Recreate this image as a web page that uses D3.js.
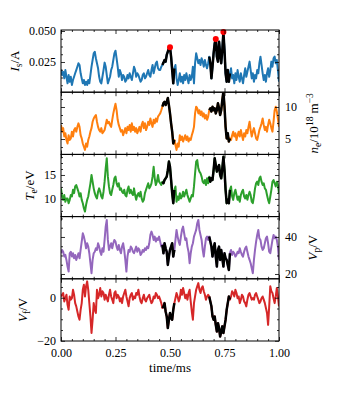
<!DOCTYPE html>
<html>
<head>
<meta charset="utf-8">
<script src="https://d3js.org/d3.v7.min.js"></script>
<style>
  html, body { margin: 0; padding: 0; background: #fff; }
  svg { display: block; font-family: "Liberation Serif", "Times New Roman", serif; }
</style>
</head>
<body>
<div id="chart"></div>
<script>
// sampling step of the probe signals (ms)
const dt = 0.005;

// ion saturation current (A)
const Is = [
  .0190,.0145,.0170,.0118,.0185,.0131,.0078,.0145,.0091,.0131,
  .0065,.0105,.0131,.0159,.0185,.0212,.0240,.0226,.0159,.0118,
  .0078,.0105,.0065,.0091,.0065,.0105,.0078,.0145,.0212,.0266,
  .0320,.0333,.0280,.0240,.0199,.0131,.0091,.0078,.0131,.0185,
  .0245,.0212,.0145,.0078,.0105,.0131,.0185,.0212,.0266,.0320,
  .0341,.0280,.0212,.0131,.0185,.0159,.0105,.0145,.0131,.0091,
  .0105,.0145,.0118,.0159,.0131,.0105,.0159,.0212,.0185,.0131,
  .0159,.0145,.0118,.0091,.0105,.0145,.0159,.0118,.0131,.0159,
  .0185,.0145,.0131,.0185,.0226,.0159,.0199,.0240,.0253,.0199,
  .0185,.0185,.0212,.0226,.0245,.0266,.0253,.0307,.0333,.0360,
  .0369,.0293,.0185,.0078,.0199,.0226,.0118,.0065,.0105,.0159,
  .0091,.0131,.0078,.0145,.0105,.0159,.0118,.0078,.0145,.0105,
  .0131,.0212,.0078,.0240,.0320,.0280,.0240,.0266,.0226,.0280,
  .0253,.0212,.0266,.0226,.0199,.0240,.0293,.0240,.0118,.0212,
  .0320,.0400,.0435,.0293,.0253,.0414,.0320,.0240,.0347,.0492,
  .0347,.0159,.0091,.0185,.0091,.0159,.0199,.0118,.0145,.0078,
  .0159,.0105,.0185,.0131,.0091,.0159,.0118,.0078,.0145,.0199,
  .0131,.0172,.0212,.0253,.0185,.0118,.0159,.0091,.0145,.0118,
  .0185,.0159,.0240,.0293,.0226,.0159,.0105,.0145,.0091,.0159,
  .0199,.0131,.0185,.0253,.0212,.0280,.0293,.0240,.0266,.0185,
  .0091
];

// electron density (1e18 m^-3)
const ne = [
  7.2,6.15,6.7,5.4,5.9,4.85,4.3,5.6,4.85,5.1,
  6.15,5.4,6.4,6.7,6.15,6.9,7.45,6.9,5.6,5.1,
  4.3,3.8,3.3,4.3,3.8,4.85,5.4,6.15,6.7,7.7,
  8.2,8.5,8.75,7.7,6.9,6.4,6.15,6.7,5.9,6.15,
  6.4,7.2,8.0,7.45,7.7,7.2,6.9,8.0,9.0,9.8,
  10.5,9.5,8.0,7.2,6.7,6.15,6.4,5.6,6.15,6.7,
  5.9,6.9,6.4,7.2,6.15,7.45,6.4,6.9,6.15,6.7,
  5.9,6.4,6.9,6.15,7.2,7.7,6.7,7.45,6.4,6.9,
  7.7,7.2,8.2,7.45,6.9,8.0,7.45,8.2,7.7,8.5,
  8.75,9.0,9.5,10.05,10.6,10.8,10.3,10.8,11.4,10.3,
  9.0,7.45,6.15,4.3,4.85,4.05,3.3,4.3,3.8,5.6,
  4.85,5.4,4.6,5.1,5.6,4.85,5.4,4.6,5.1,4.85,
  5.6,6.15,6.9,9.0,10.05,9.8,9.0,9.5,8.75,9.3,
  8.5,9.0,8.2,8.75,8.0,8.5,9.5,9.8,9.3,10.05,
  9.5,9.8,9.0,9.5,10.6,9.8,8.75,9.5,11.1,12.4,
  10.05,6.9,5.1,5.9,4.6,5.1,4.85,5.6,6.15,5.4,
  5.9,4.85,5.6,6.15,5.4,6.4,5.6,4.85,5.9,5.4,
  6.4,5.9,6.9,7.7,6.4,5.4,6.15,6.7,5.9,5.1,
  4.85,5.6,6.4,6.9,7.45,8.2,7.2,6.4,6.9,6.15,
  7.2,8.0,7.45,6.7,6.15,7.7,9.5,10.05,9.3,8.2,
  6.9
];

// electron temperature (eV)
const Te = [
  12.2,10.5,9.8,10.8,9.4,10.1,10.1,9.1,9.8,10.8,
  10.5,11.9,11.2,12.6,12.9,12.2,11.5,10.5,11.2,9.8,
  9.1,8.05,7.35,8.75,9.8,10.5,11.9,13.26,15.0,13.6,
  12.2,11.2,10.5,10.1,11.5,12.2,11.5,10.5,10.1,11.5,
  13.6,16.4,18.5,14.65,12.6,11.2,10.8,11.9,12.9,14.3,
  14.65,13.26,12.6,13.26,11.9,12.2,11.5,11.2,11.9,10.8,
  10.5,11.9,12.6,11.2,11.9,11.2,10.8,12.2,10.8,9.8,
  10.8,11.2,10.5,11.5,10.1,9.4,9.8,11.2,11.9,12.6,
  13.26,12.2,12.6,13.26,14.65,16.7,14.3,12.9,13.6,15.0,
  13.6,13.26,12.9,13.6,13.26,13.96,14.3,14.65,16.0,17.8,
  16.7,13.96,11.2,9.1,11.9,12.6,9.4,10.5,9.8,11.2,
  10.1,10.5,11.5,10.5,11.2,11.9,10.8,10.1,9.4,10.1,
  10.8,10.5,12.6,15.35,17.8,18.1,16.4,15.7,15.35,14.65,
  13.6,13.26,13.96,12.9,14.3,13.26,14.65,13.6,14.3,13.96,
  16.0,18.5,17.1,15.7,16.4,17.1,15.0,14.3,16.4,18.8,
  16.0,11.9,9.1,9.8,9.1,11.9,12.6,10.5,9.8,11.2,
  11.9,10.8,9.8,10.5,9.4,10.8,11.5,11.9,10.5,10.1,
  10.8,9.8,10.8,11.5,10.8,9.4,9.1,10.5,12.2,13.26,
  13.6,12.9,14.3,14.65,13.6,12.9,13.26,12.2,11.9,10.8,
  9.8,9.1,10.5,11.9,13.6,13.96,13.26,12.6,13.6,12.9,
  11.2
];

// plasma potential (V)
const Vp = [
  31.2,33,32,29.4,30.3,27.6,24,21.3,31.2,32,
  29.4,31.2,28.5,30.3,27.6,29.4,31.2,28.5,33,37.5,
  42,40.2,37.5,33.9,36.6,34.8,31.2,25.8,20.4,27.6,
  31.2,32,33.9,33,36.6,34.8,32,30.3,33.9,32,
  38.4,45.6,49.2,38.4,33,34.8,36.6,33.9,36.6,38.4,
  37.5,34.8,33,35.7,33,31.2,34.8,36.6,33,27.6,
  21.3,29.4,33,32,34.8,33.9,32,31.2,33,34.8,
  32,33.9,33,30.3,31.2,33,32,33.9,33,34.8,
  33.9,36.6,41.1,42.9,41.1,38.4,40.2,37.5,39.3,38.4,
  40.2,37.5,34.8,35.7,31.2,36.6,33.9,32,24.9,29.4,
  33,34.8,36.6,29.4,33,38.4,43.8,40.2,37.5,35.7,
  40.2,43.8,45.6,42,38.4,39.3,34.8,32,25.8,31.2,
  34.8,36.6,40.2,42,43.8,47.4,49.2,43.8,41.1,38.4,
  33,29.4,34.8,39.3,40.2,38.4,40.2,37.5,34.8,29.4,
  33.9,36.6,29.4,24,33,34.8,27.6,33,28.5,24,
  31.2,28.5,27.6,24.9,22.2,31.2,33,30.3,32,31.2,
  29.4,30.3,32,31.2,33.9,32,30.3,29.4,32,33.9,
  34.8,32,29.4,27.6,25.8,23.1,20.4,27.6,33,37.5,
  41.1,43.8,39.3,38.4,34.8,33,33.9,36.6,39.3,40.2,
  36.6,32,31.2,34.8,38.4,41.1,39.3,40.2,38.4,34.8,
  27.6
];

// floating potential (V)
const Vf = [
  0.6,1.4,2.2,-1.7,-0.2,1.4,-3.3,-5.6,0.6,-0.9,
  -0.2,3.7,1.4,-2.5,-4.0,-6.4,-8.7,-10.2,-5.6,-2.5,
  3.7,6.0,0.6,5.3,7.6,3.7,-2.5,-8.7,-16.4,-10.2,
  -2.5,-5.6,-7.1,3.7,-0.2,1.4,4.5,0.6,3.0,2.2,
  -0.9,1.4,-0.2,-1.7,1.4,3.7,0.6,-0.9,-2.5,2.2,
  3.0,-0.2,1.4,0.6,-1.7,-0.2,-2.5,0.6,2.2,3.7,
  0.6,-1.7,-4.0,-0.2,1.4,2.2,-0.9,0.6,-0.2,2.2,
  1.4,3.7,0.6,-1.7,-2.5,-0.2,1.4,-0.9,-1.7,-0.2,
  0.6,1.4,-0.9,-2.5,-1.7,0.6,-0.2,2.2,1.4,-0.2,
  0.6,-0.9,-2.5,-4.8,-4.0,-2.5,-6.4,-8.7,-14.1,-10.2,
  -7.1,-9.5,-10.2,-5.6,-2.5,-0.2,2.2,0.6,-1.7,-0.2,
  3.7,1.4,4.5,2.2,-0.2,1.4,-0.9,2.2,3.7,-1.7,
  -6.4,-10.2,-2.5,0.6,3.7,5.3,6.8,3.7,2.2,4.5,
  5.3,3.0,1.4,-0.9,0.6,1.4,0.6,-1.7,-4.0,-8.7,
  -10.2,-8.7,-12.6,-15.7,-11.8,-14.1,-18.0,-15.7,-13.3,-16.4,
  -13.3,-10.2,-5.6,-2.5,0.6,-0.9,0.6,3.0,2.2,0.6,
  3.7,2.2,-0.2,0.6,-2.5,-0.9,1.4,0.6,-1.7,-2.5,
  -4.0,-0.9,1.4,2.2,0.6,-0.9,-0.2,-0.9,1.4,2.2,
  0.6,-0.9,-2.5,-1.7,-0.2,0.6,-0.9,-2.5,-4.8,-7.1,
  -12.6,-4.0,5.3,3.0,2.2,-0.2,-2.5,0.6,4.5,0.6,
  -4.0
];

// highlighted bursts (ms) and detected Is peaks
const events = [[0.465, 0.52], [0.68, 0.775]];
const peakT = [0.50, 0.71, 0.745];
const peakIs = [0.0369, 0.0435, 0.0492];

const xTicks = [0, 0.25, 0.5, 0.75, 1.0];

const W = 337, H = 417;
const M = {left: 61, right: 279, top: 30, bottom: 341};
const ph = (M.bottom - M.top) / 5;

const panels = [
  {data: Is, color: '#1f77b4', domain: [0.00065, 0.0508], ticks: [0.025, 0.05], minor: 0.00625, fmt: d3.format('.3f'), side: 'left',
   label: [['I', 'i'], ['s', 'sub'], ['/A', '']]},
  {data: ne, color: '#ff7f0e', domain: [2.6, 12.31], ticks: [5, 10], minor: 1.25, fmt: d3.format('d'), side: 'right',
   label: [['n', 'i'], ['e', 'sub'], ['/10', ''], ['18', 'sup'], [' m', ''], ['\u22123', 'sup']]},
  {data: Te, color: '#2ca02c', domain: [6.3, 19.3], ticks: [10, 15], minor: 1.25, fmt: d3.format('d'), side: 'left',
   label: [['T', 'i'], ['e', 'sub'], ['/eV', '']]},
  {data: Vp, color: '#9467bd', domain: [17.4, 51], ticks: [20, 40], minor: 5, fmt: d3.format('d'), side: 'right',
   label: [['V', 'i'], ['p', 'sub'], ['/V', '']]},
  {data: Vf, color: '#d62728', domain: [-20.1, 8.8], ticks: [-20, 0], minor: 5, fmt: d3.format('d'), side: 'left',
   label: [['V', 'i'], ['f', 'sub'], ['/V', '']]}
];

const svg = d3.select('#chart').append('svg').attr('width', W).attr('height', H);
const x = d3.scaleLinear().domain([0, 1]).range([M.left, M.right]);
const time = d3.range(Is.length).map(i => i * dt);

function styleAxis(g) {
  g.select('.domain').remove();
  g.selectAll('line').attr('stroke', '#000').attr('stroke-width', 0.8);
  g.selectAll('text').attr('font-size', 12).attr('fill', '#000')
    .attr('font-family', '"Liberation Serif", serif');
}

function addLabel(parts) {
  const t = svg.append('text').attr('font-size', 13).attr('fill', '#000').attr('text-anchor', 'middle');
  let shift = 0;
  parts.forEach(([s, kind]) => {
    const sp = t.append('tspan').text(s);
    let target = 0;
    if (kind === 'i') sp.attr('font-style', 'italic');
    if (kind === 'sub') { sp.attr('font-size', 9.5); target = 3; }
    if (kind === 'sup') { sp.attr('font-size', 9.5); target = -5; }
    sp.attr('dy', target - shift);
    shift = target;
  });
  return t;
}

panels.forEach((p, k) => {
  const y0 = M.top + k * ph, y1 = y0 + ph;
  const y = d3.scaleLinear().domain(p.domain).range([y1, y0]);
  const g = svg.append('g');

  const clipId = 'clip' + k;
  svg.append('clipPath').attr('id', clipId)
    .append('rect').attr('x', M.left).attr('y', y0).attr('width', M.right - M.left).attr('height', ph);

  const lineIdx = d3.line().x(i => x(time[i])).y(i => y(p.data[i]));
  const all = d3.range(p.data.length);

  g.append('path').datum(all).attr('d', lineIdx)
    .attr('fill', 'none').attr('stroke', p.color).attr('stroke-width', 2)
    .attr('stroke-linejoin', 'round').attr('clip-path', `url(#${clipId})`);

  events.forEach(([a, b]) => {
    const idx = all.filter(i => time[i] >= a - 1e-9 && time[i] <= b + 1e-9);
    g.append('path').datum(idx).attr('d', lineIdx)
      .attr('fill', 'none').attr('stroke', '#000').attr('stroke-width', 2.5)
      .attr('stroke-linejoin', 'round').attr('clip-path', `url(#${clipId})`);
  });

  if (k === 0) {
    g.selectAll('circle').data(peakT).join('circle')
      .attr('cx', d => x(d)).attr('cy', (d, i) => y(peakIs[i])).attr('r', 3)
      .attr('fill', 'red');
  }

  // frame
  svg.append('rect').attr('x', M.left).attr('y', y0).attr('width', M.right - M.left).attr('height', ph)
    .attr('fill', 'none').attr('stroke', '#000').attr('stroke-width', 1);

  // y ticks, inward on both sides
  const lo = p.domain[0], hi = p.domain[1];
  const minorVals = d3.range(Math.ceil(lo / p.minor), Math.floor(hi / p.minor) + 1).map(i => i * p.minor)
    .filter(v => !p.ticks.some(t => Math.abs(t - v) < 1e-9));
  const labelled = p.side === 'left';

  const la = svg.append('g').attr('transform', `translate(${M.left},0)`)
    .call(d3.axisLeft(y).tickValues(p.ticks).tickSize(-4).tickPadding(5).tickFormat(labelled ? p.fmt : () => ''));
  styleAxis(la);
  styleAxis(svg.append('g').attr('transform', `translate(${M.left},0)`)
    .call(d3.axisLeft(y).tickValues(minorVals).tickSize(-2).tickFormat(() => '')));
  const ra = svg.append('g').attr('transform', `translate(${M.right},0)`)
    .call(d3.axisRight(y).tickValues(p.ticks).tickSize(-4).tickPadding(6).tickFormat(labelled ? () => '' : p.fmt));
  styleAxis(ra);
  styleAxis(svg.append('g').attr('transform', `translate(${M.right},0)`)
    .call(d3.axisRight(y).tickValues(minorVals).tickSize(-2).tickFormat(() => '')));

  // x ticks top and bottom
  const xMinor = d3.range(0, 21).map(i => i * 0.05).filter(v => !xTicks.some(t => Math.abs(t - v) < 1e-9));
  styleAxis(svg.append('g').attr('transform', `translate(0,${y0})`)
    .call(d3.axisTop(x).tickValues(xTicks).tickSize(-4).tickFormat(() => '')));
  styleAxis(svg.append('g').attr('transform', `translate(0,${y0})`)
    .call(d3.axisTop(x).tickValues(xMinor).tickSize(-2).tickFormat(() => '')));
  styleAxis(svg.append('g').attr('transform', `translate(0,${y1})`)
    .call(d3.axisBottom(x).tickValues(xTicks).tickSize(-4).tickPadding(7)
      .tickFormat(k === 4 ? d3.format('.2f') : () => '')));
  styleAxis(svg.append('g').attr('transform', `translate(0,${y1})`)
    .call(d3.axisBottom(x).tickValues(xMinor).tickSize(-2).tickFormat(() => '')));

  // y label, placed next to the tick labels
  const ax = labelled ? la : ra;
  const tb = ax.selectAll('text').nodes().map(n => n.getBBox());
  const lab = addLabel(p.label);
  const bb = lab.node().getBBox();
  const cy = (y0 + y1) / 2;
  let lx;
  if (labelled) {
    const minX = M.left + d3.min(tb, b => b.x);
    lx = minX - 5 - (bb.y + bb.height);
  } else {
    const maxX = M.right + d3.max(tb, b => b.x + b.width);
    lx = maxX + 8 - bb.y;
  }
  lab.attr('transform', `translate(${lx},${cy}) rotate(-90)`);
});

svg.append('text').attr('x', (M.left + M.right) / 2).attr('y', 372)
  .attr('text-anchor', 'middle').attr('font-size', 13).attr('fill', '#000')
  .text('time/ms');
</script>
</body>
</html>
